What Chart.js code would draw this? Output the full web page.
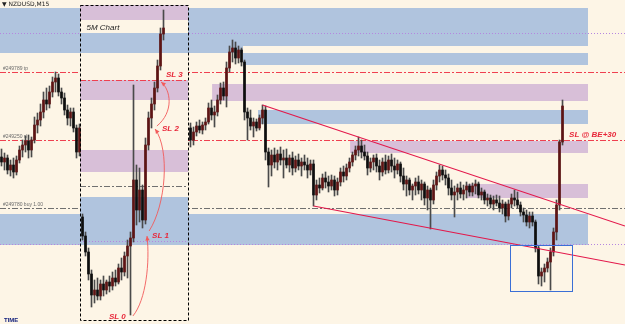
<!DOCTYPE html>
<html>
<head>
<meta charset="utf-8">
<script src="https://cdn.jsdelivr.net/npm/chart.js@4.4.1/dist/chart.umd.min.js"></script>
<style>
  html, body { margin: 0; padding: 0; background: #fdf5e6; overflow: hidden; }
  canvas { display: block; }
</style>
</head>
<body>
<canvas id="chart" width="625" height="324"></canvas>
<script>
// NZDUSD M15 CANDLES (index = bar number, null = hidden behind the 5M inset)
const opens = [
  0.7143, 0.7138, 0.7142, 0.7130, 0.7135, 0.7128, 0.7140, 0.7150, 0.7155, 0.7159,
  0.7150, 0.7160, 0.7175, 0.7180, 0.7188, 0.7200, 0.7196, 0.7208, 0.7218, 0.7222,
  0.7208, 0.7202, 0.7190, 0.7182, 0.7188, 0.7172, 0.7148,
  0.7083, 0.7064, 0.7048, 0.7026, 0.7005, 0.7010, 0.7004, 0.7016, 0.7010, 0.7018,
  0.7014, 0.7022, 0.7018, 0.7032, 0.7028, 0.7044, 0.7054, 0.7062, 0.7120, 0.7090,
  0.7110, 0.7080, 0.7155, 0.7182, 0.7196, 0.7212, 0.7234, 0.7266,
  null, null, null, null, null, null, null, null,
  0.7172, 0.7160, 0.7168, 0.7174, 0.7170, 0.7175, 0.7178, 0.7192, 0.7185, 0.7188,
  0.7200, 0.7212, 0.7204, 0.7232, 0.7248, 0.7252, 0.7242, 0.7250, 0.7238, 0.7188,
  0.7182, 0.7174, 0.7178, 0.7172, 0.7182, 0.7190, 0.7148, 0.7135, 0.7145, 0.7138,
  0.7146, 0.7140, 0.7142, 0.7135, 0.7142, 0.7132, 0.7140, 0.7134, 0.7138, 0.7135,
  0.7130, 0.7136, 0.7105, 0.7115, 0.7112, 0.7122, 0.7118, 0.7114, 0.7120, 0.7110,
  0.7118, 0.7128, 0.7124, 0.7132, 0.7138, 0.7145, 0.7150, 0.7154, 0.7148, 0.7144,
  0.7132, 0.7138, 0.7142, 0.7134, 0.7128, 0.7138, 0.7130, 0.7140, 0.7134, 0.7130,
  0.7136, 0.7124, 0.7116, 0.7120, 0.7110, 0.7114, 0.7118, 0.7110, 0.7116, 0.7102,
  0.7110, 0.7100, 0.7115, 0.7124, 0.7130, 0.7125, 0.7122, 0.7112, 0.7105, 0.7108,
  0.7112, 0.7106, 0.7110, 0.7114, 0.7108, 0.7114, 0.7116, 0.7105, 0.7108, 0.7100,
  0.7102, 0.7096, 0.7100, 0.7097, 0.7092, 0.7096, 0.7084, 0.7096, 0.7102, 0.7100,
  0.7095, 0.7088, 0.7085, 0.7078, 0.7084, 0.7078, 0.7052, 0.7024, 0.7028, 0.7032,
  0.7038, 0.7048, 0.7068, 0.7095, 0.7158
];
const highs = [
  0.7151, 0.7147, 0.7145, 0.7140, 0.7142, 0.7144, 0.7154, 0.7160, 0.7164, 0.7165,
  0.7163, 0.7183, 0.7187, 0.7196, 0.7208, 0.7212, 0.7214, 0.7223, 0.7228, 0.7226,
  0.7212, 0.7207, 0.7195, 0.7192, 0.7192, 0.7175, 0.7176,
  0.7086, 0.7068, 0.7052, 0.7030, 0.7020, 0.7022, 0.7020, 0.7024, 0.7020, 0.7024,
  0.7028, 0.7030, 0.7036, 0.7042, 0.7048, 0.7060, 0.7068, 0.7215, 0.7135, 0.7132,
  0.7115, 0.7162, 0.7188, 0.7202, 0.7218, 0.7240, 0.7272, 0.7290,
  null, null, null, null, null, null, null, null,
  0.7177, 0.7173, 0.7178, 0.7180, 0.7178, 0.7182, 0.7197, 0.7200, 0.7194, 0.7205,
  0.7217, 0.7218, 0.7238, 0.7254, 0.7260, 0.7258, 0.7254, 0.7252, 0.7240, 0.7192,
  0.7190, 0.7182, 0.7181, 0.7185, 0.7195, 0.7194, 0.7152, 0.7150, 0.7152, 0.7150,
  0.7153, 0.7150, 0.7151, 0.7145, 0.7148, 0.7144, 0.7146, 0.7142, 0.7145, 0.7142,
  0.7140, 0.7140, 0.7120, 0.7122, 0.7126, 0.7128, 0.7124, 0.7125, 0.7124, 0.7122,
  0.7132, 0.7134, 0.7136, 0.7142, 0.7148, 0.7154, 0.7163, 0.7160, 0.7155, 0.7148,
  0.7142, 0.7145, 0.7146, 0.7140, 0.7142, 0.7145, 0.7144, 0.7146, 0.7142, 0.7140,
  0.7138, 0.7132, 0.7124, 0.7122, 0.7116, 0.7122, 0.7124, 0.7120, 0.7118, 0.7114,
  0.7112, 0.7120, 0.7128, 0.7135, 0.7134, 0.7130, 0.7126, 0.7120, 0.7114, 0.7116,
  0.7118, 0.7115, 0.7118, 0.7116, 0.7117, 0.7120, 0.7118, 0.7112, 0.7110, 0.7106,
  0.7105, 0.7104, 0.7105, 0.7104, 0.7100, 0.7098, 0.7100, 0.7106, 0.7110, 0.7108,
  0.7098, 0.7092, 0.7090, 0.7088, 0.7088, 0.7080, 0.7054, 0.7032, 0.7036, 0.7042,
  0.7052, 0.7072, 0.7100, 0.7160, 0.7200
];
const lows = [
  0.7134, 0.7130, 0.7126, 0.7124, 0.7122, 0.7125, 0.7137, 0.7143, 0.7148, 0.7142,
  0.7143, 0.7157, 0.7167, 0.7174, 0.7182, 0.7190, 0.7192, 0.7203, 0.7208, 0.7204,
  0.7196, 0.7185, 0.7175, 0.7174, 0.7168, 0.7142, 0.7144,
  0.7060, 0.7044, 0.7020, 0.6993, 0.6997, 0.7000, 0.7000, 0.7004, 0.7006, 0.7008,
  0.7010, 0.7014, 0.7016, 0.7020, 0.7024, 0.7022, 0.6985, 0.7058, 0.7075, 0.7078,
  0.7072, 0.7076, 0.7150, 0.7172, 0.7190, 0.7208, 0.7230, 0.7260,
  null, null, null, null, null, null, null, null,
  0.7153, 0.7155, 0.7164, 0.7167, 0.7166, 0.7170, 0.7176, 0.7180, 0.7173, 0.7184,
  0.7196, 0.7200, 0.7193, 0.7228, 0.7238, 0.7236, 0.7237, 0.7234, 0.7180, 0.7160,
  0.7170, 0.7163, 0.7169, 0.7170, 0.7176, 0.7140, 0.7113, 0.7124, 0.7132, 0.7130,
  0.7135, 0.7122, 0.7132, 0.7128, 0.7125, 0.7128, 0.7130, 0.7124, 0.7130, 0.7122,
  0.7125, 0.7094, 0.7100, 0.7107, 0.7110, 0.7112, 0.7108, 0.7110, 0.7104, 0.7105,
  0.7114, 0.7118, 0.7120, 0.7128, 0.7134, 0.7140, 0.7144, 0.7142, 0.7140, 0.7125,
  0.7128, 0.7130, 0.7128, 0.7120, 0.7124, 0.7126, 0.7127, 0.7128, 0.7122, 0.7126,
  0.7118, 0.7110, 0.7104, 0.7105, 0.7100, 0.7105, 0.7106, 0.7100, 0.7095, 0.7090,
  0.7071, 0.7096, 0.7110, 0.7118, 0.7120, 0.7115, 0.7105, 0.7100, 0.7083, 0.7100,
  0.7102, 0.7100, 0.7102, 0.7104, 0.7104, 0.7106, 0.7102, 0.7100, 0.7096, 0.7094,
  0.7092, 0.7090, 0.7094, 0.7088, 0.7086, 0.7078, 0.7080, 0.7092, 0.7094, 0.7092,
  0.7084, 0.7078, 0.7074, 0.7072, 0.7074, 0.7048, 0.7016, 0.7014, 0.7018, 0.7028,
  0.7010, 0.7044, 0.7060, 0.7090, 0.7155
];
const closes = [
  0.7138, 0.7142, 0.7130, 0.7135, 0.7128, 0.7140, 0.7150, 0.7155, 0.7159, 0.7150,
  0.7160, 0.7175, 0.7180, 0.7188, 0.7200, 0.7196, 0.7208, 0.7218, 0.7222, 0.7208,
  0.7202, 0.7190, 0.7182, 0.7188, 0.7172, 0.7148, 0.7172,
  0.7064, 0.7048, 0.7026, 0.7005, 0.7010, 0.7004, 0.7016, 0.7010, 0.7018, 0.7014,
  0.7022, 0.7018, 0.7032, 0.7028, 0.7044, 0.7054, 0.7062, 0.7120, 0.7090, 0.7110,
  0.7080, 0.7155, 0.7182, 0.7196, 0.7212, 0.7234, 0.7266, 0.7272,
  null, null, null, null, null, null, null, null,
  0.7160, 0.7168, 0.7174, 0.7170, 0.7175, 0.7178, 0.7192, 0.7185, 0.7188, 0.7200,
  0.7212, 0.7204, 0.7232, 0.7248, 0.7252, 0.7242, 0.7250, 0.7238, 0.7188, 0.7182,
  0.7174, 0.7178, 0.7172, 0.7182, 0.7190, 0.7148, 0.7135, 0.7145, 0.7138, 0.7146,
  0.7140, 0.7142, 0.7135, 0.7142, 0.7132, 0.7140, 0.7134, 0.7138, 0.7135, 0.7130,
  0.7136, 0.7105, 0.7115, 0.7112, 0.7122, 0.7118, 0.7114, 0.7120, 0.7110, 0.7118,
  0.7128, 0.7124, 0.7132, 0.7138, 0.7145, 0.7150, 0.7154, 0.7148, 0.7144, 0.7132,
  0.7138, 0.7142, 0.7134, 0.7128, 0.7138, 0.7130, 0.7140, 0.7134, 0.7130, 0.7136,
  0.7124, 0.7116, 0.7120, 0.7110, 0.7114, 0.7118, 0.7110, 0.7116, 0.7102, 0.7110,
  0.7100, 0.7115, 0.7124, 0.7130, 0.7125, 0.7122, 0.7112, 0.7105, 0.7108, 0.7112,
  0.7106, 0.7110, 0.7114, 0.7108, 0.7114, 0.7116, 0.7105, 0.7108, 0.7100, 0.7102,
  0.7096, 0.7100, 0.7097, 0.7092, 0.7096, 0.7084, 0.7096, 0.7102, 0.7100, 0.7095,
  0.7088, 0.7085, 0.7078, 0.7084, 0.7078, 0.7052, 0.7024, 0.7028, 0.7032, 0.7038,
  0.7048, 0.7068, 0.7095, 0.7158, 0.7194
];

// PRICE LEVELS (order lines)
const tpLevel = 0.7228;
const slLevel = 0.7160;
const buyLevel = 0.7092;
const levelLabels = ['#249789 tp', '#249250 sl', '#249780 buy 1.00'];
const dottedLevels = [0.7267, 0.7056];

// SUPPLY / DEMAND ZONES : [fromBar, toBar, top, bottom, kind]
const zones = [
  [-0.5, 195.5, 0.7292, 0.7254, 'blue'],
  [-0.5, 80.5, 0.7254, 0.7247, 'blue'],
  [80.5, 195.5, 0.7247, 0.7235, 'blue'],
  [70.2, 195.5, 0.7216, 0.7199, 'purple'],
  [85.5, 195.5, 0.7190, 0.7176, 'blue'],
  [116.2, 195.5, 0.7159, 0.7147, 'purple'],
  [154.8, 195.5, 0.7116, 0.7102, 'purple'],
  [-0.5, 195.5, 0.7086, 0.7055, 'blue']
];

// 5M INSET
const insetBars = [26.17, 62.17];
const insetPrices = [0.7295, 0.6980];
const insetZones = [
  [0.7295, 0.7280, 'purple'],
  [0.7267, 0.7247, 'blue'],
  [0.7220, 0.7200, 'purple'],
  [0.7150, 0.7128, 'purple'],
  [0.7103, 0.7055, 'blue']
];
const insetSlLevel = 0.7220;
const insetBuyLevel = 0.7114;
const insetDotted = 0.7059;

// TRENDLINES : [bar, price, bar, price]
const trendlines = [
  [87, 0.7195, 207.83, 0.7074],
  [104, 0.7094, 207.83, 0.7035]
];
const focusBox = [169.5, 190.17, 0.7055, 0.7009];

// STOP LOSS NOTES : [text, bar, price]
const slNotes = [
  ['SL 3', 54.8, 0.7223],
  ['SL 2', 53.5, 0.7169],
  ['SL 1', 50.2, 0.7062],
  ['SL 0', 35.8, 0.6981],
  ['SL @ BE+30', 189.2, 0.7163]
];
// arrows : start, control 1, control 2, end  ([bar, price] each)
const slArrows = [
  [[43.8, 0.6984], [48.2, 0.7000], [49.5, 0.7038], [48.5, 0.7064]],
  [[49.2, 0.7069], [54.8, 0.7095], [56.2, 0.7150], [51.2, 0.7171]],
  [[51.8, 0.7174], [57.5, 0.7188], [56.5, 0.7210], [53.2, 0.7218]]
];

const COLORS = {
  bg: '#fdf5e6',
  blue: '#b0c4de',
  purple: '#d8bfd8',
  bull: '#5e1414',
  bear: '#0e0e0e',
  wick: '#4a4a4a',
  red: '#ef4050',
  gray: '#707070',
  dotted: '#b586e0',
  trend: '#e3174a'
};

// BUILD CANDLES
const wickData = [];
const bodyData = [];
const bodyColors = [];
for (let i = 0; i < opens.length; i++) {
  if (opens[i] === null) continue;
  wickData.push({ x: i, y: [lows[i], highs[i]] });
  bodyData.push({ x: i, y: [opens[i], closes[i]] });
  bodyColors.push(closes[i] >= opens[i] ? COLORS.bull : COLORS.bear);
}

function hLine(ctx, x0, x1, y, color, dash) {
  ctx.save();
  ctx.strokeStyle = color;
  ctx.lineWidth = 1;
  ctx.setLineDash(dash);
  ctx.beginPath();
  ctx.moveTo(x0, Math.round(y) + 0.5);
  ctx.lineTo(x1, Math.round(y) + 0.5);
  ctx.stroke();
  ctx.restore();
}

function drawArrow(ctx, pts, X, Y) {
  const p = pts.map(function (q) { return [X(q[0]), Y(q[1])]; });
  ctx.save();
  ctx.strokeStyle = '#f25a5a';
  ctx.fillStyle = '#f25a5a';
  ctx.lineWidth = 0.9;
  ctx.beginPath();
  ctx.moveTo(p[0][0], p[0][1]);
  ctx.bezierCurveTo(p[1][0], p[1][1], p[2][0], p[2][1], p[3][0], p[3][1]);
  ctx.stroke();
  // arrow head
  const ang = Math.atan2(p[3][1] - p[2][1], p[3][0] - p[2][0]);
  ctx.beginPath();
  ctx.moveTo(p[3][0], p[3][1]);
  ctx.lineTo(p[3][0] - 5 * Math.cos(ang - 0.45), p[3][1] - 5 * Math.sin(ang - 0.45));
  ctx.lineTo(p[3][0] - 5 * Math.cos(ang + 0.45), p[3][1] - 5 * Math.sin(ang + 0.45));
  ctx.closePath();
  ctx.fill();
  ctx.restore();
}

// BACKGROUND, ZONES, LINES, NOTES
const overlay = {
  id: 'overlay',
  beforeDraw(chart) {
    const ctx = chart.ctx;
    ctx.save();
    ctx.fillStyle = COLORS.bg;
    ctx.fillRect(0, 0, chart.width, chart.height);
    ctx.restore();
  },
  beforeDatasetsDraw(chart) {
    const ctx = chart.ctx;
    const X = (v) => chart.scales.x.getPixelForValue(v);
    const Y = (v) => chart.scales.y.getPixelForValue(v);
    const left = 0, right = chart.width;

    zones.forEach(function (z) {
      ctx.fillStyle = COLORS[z[4]];
      ctx.fillRect(X(z[0]), Y(z[2]), X(z[1]) - X(z[0]), Y(z[3]) - Y(z[2]));
    });

    dottedLevels.forEach(function (p) { hLine(ctx, left, right, Y(p), COLORS.dotted, [1, 2]); });
    hLine(ctx, left, right, Y(tpLevel), COLORS.red, [6, 2, 2, 2]);
    hLine(ctx, left, right, Y(slLevel), COLORS.red, [6, 2, 2, 2]);
    hLine(ctx, left, right, Y(buyLevel), COLORS.gray, [6, 2, 2, 2]);

    ctx.save();
    ctx.fillStyle = '#6a6a6a';
    ctx.font = '5px "Liberation Sans"';
    ctx.fillText(levelLabels[0], 3, Y(tpLevel) - 2);
    ctx.fillText(levelLabels[1], 3, Y(slLevel) - 2);
    ctx.fillText(levelLabels[2], 3, Y(buyLevel) - 2);
    ctx.restore();

    // inset background + its own zones
    const ix0 = X(insetBars[0]), ix1 = X(insetBars[1]);
    const iy0 = Y(insetPrices[0]), iy1 = Y(insetPrices[1]);
    ctx.fillStyle = COLORS.bg;
    ctx.fillRect(ix0, iy0, ix1 - ix0, iy1 - iy0);
    insetZones.forEach(function (z) {
      ctx.fillStyle = COLORS[z[2]];
      ctx.fillRect(ix0, Y(z[0]), ix1 - ix0, Y(z[1]) - Y(z[0]));
    });
    hLine(ctx, ix0, ix1, Y(insetSlLevel), COLORS.red, [6, 2, 2, 2]);
    hLine(ctx, ix0, ix1, Y(insetBuyLevel), COLORS.gray, [6, 2, 2, 2]);
    hLine(ctx, ix0, ix1, Y(insetDotted), COLORS.dotted, [1, 2]);
  },
  afterDatasetsDraw(chart) {
    const ctx = chart.ctx;
    const X = (v) => chart.scales.x.getPixelForValue(v);
    const Y = (v) => chart.scales.y.getPixelForValue(v);

    // inset dashed frame
    const ix0 = Math.round(X(insetBars[0])) + 0.5, ix1 = Math.round(X(insetBars[1])) + 0.5;
    const iy0 = Math.round(Y(insetPrices[0])) + 0.5, iy1 = Math.round(Y(insetPrices[1])) + 0.5;
    ctx.save();
    ctx.strokeStyle = '#000';
    ctx.lineWidth = 1;
    ctx.setLineDash([3, 2]);
    ctx.strokeRect(ix0, iy0, ix1 - ix0, iy1 - iy0);
    ctx.restore();

    ctx.save();
    ctx.fillStyle = '#1e1e1e';
    ctx.font = 'italic 8px "Liberation Sans"';
    ctx.fillText('5M Chart', ix0 + 6, Y(0.7270));
    ctx.restore();

    // trendlines
    ctx.save();
    ctx.strokeStyle = COLORS.trend;
    ctx.lineWidth = 1.1;
    trendlines.forEach(function (t) {
      ctx.beginPath();
      ctx.moveTo(X(t[0]), Y(t[1]));
      ctx.lineTo(X(t[2]), Y(t[3]));
      ctx.stroke();
    });
    ctx.restore();

    // focus rectangle
    ctx.save();
    ctx.strokeStyle = '#3b6fd6';
    ctx.lineWidth = 1;
    ctx.strokeRect(Math.round(X(focusBox[0])) + 0.5, Math.round(Y(focusBox[2])) + 0.5,
      Math.round(X(focusBox[1]) - X(focusBox[0])), Math.round(Y(focusBox[3]) - Y(focusBox[2])));
    ctx.restore();

    slArrows.forEach(function (a) { drawArrow(ctx, a, X, Y); });

    ctx.save();
    ctx.fillStyle = '#e8283a';
    ctx.font = 'italic bold 8px "Liberation Sans"';
    slNotes.forEach(function (n) { ctx.fillText(n[0], X(n[1]), Y(n[2])); });
    ctx.restore();

    // header + footer
    ctx.save();
    ctx.fillStyle = '#222';
    ctx.font = '6px "DejaVu Sans"';
    ctx.fillText('\u25BC NZDUSD,M15', 2, 6);
    ctx.fillStyle = '#16237e';
    ctx.font = 'bold 6px "Liberation Sans"';
    ctx.fillText('TIME', 4, 322);
    ctx.restore();
  }
};

new Chart(document.getElementById('chart'), {
  type: 'bar',
  data: {
    datasets: [
      {
        label: 'wick',
        data: wickData,
        backgroundColor: COLORS.wick,
        barThickness: 1,
        grouped: false,
        order: 2
      },
      {
        label: 'body',
        data: bodyData,
        backgroundColor: bodyColors,
        barThickness: 2,
        minBarLength: 1,
        grouped: false,
        order: 1
      }
    ]
  },
  options: {
    responsive: false,
    animation: false,
    devicePixelRatio: 1,
    events: [],
    layout: { padding: 0 },
    plugins: { legend: { display: false }, tooltip: { enabled: false } },
    scales: {
      x: { type: 'linear', min: -0.5, max: 207.83, offset: false, display: false },
      y: { min: 0.6976, max: 0.7300, display: false }
    }
  },
  plugins: [overlay]
});
</script>
</body>
</html>
